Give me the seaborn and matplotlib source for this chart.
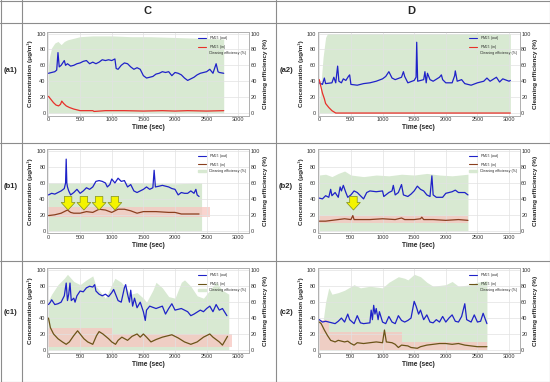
import matplotlib
matplotlib.use("Agg")
import matplotlib.pyplot as plt
import seaborn as sns
from matplotlib.lines import Line2D
from matplotlib.patches import Patch

# ---- data: (time [s], value) ----
a1_out = [(0, 50), (50, 51), (100, 52), (130, 54), (150, 76), (170, 58), (200, 60), (250, 66), (270, 60),
          (300, 62), (350, 59), (400, 60), (450, 62), (500, 63), (550, 65), (600, 66), (650, 62), (700, 64),
          (750, 62), (800, 64), (850, 67), (900, 66), (950, 67), (1000, 66), (1050, 68), (1070, 56), (1100, 55),
          (1150, 60), (1200, 63), (1250, 62), (1300, 58), (1350, 55), (1400, 57), (1450, 55), (1500, 47),
          (1550, 44), (1600, 45), (1650, 46), (1700, 49), (1750, 50), (1800, 52), (1850, 51), (1900, 52),
          (1950, 47), (2000, 51), (2050, 50), (2100, 48), (2150, 44), (2200, 41), (2250, 43), (2300, 45),
          (2350, 48), (2400, 50), (2450, 51), (2500, 52), (2550, 55), (2600, 50), (2650, 62), (2680, 52),
          (2700, 51), (2770, 50)]
a1_in = [(0, 21), (40, 17), (80, 13), (120, 10), (160, 9), (190, 11), (210, 15), (240, 12), (280, 9), (330, 7),
         (400, 5), (450, 4), (500, 3), (700, 3), (720, 2), (900, 3), (1200, 3), (1500, 2.5), (1800, 3),
         (2000, 2.5), (2200, 3), (2500, 2.5), (2770, 3)]
a1_eff = [(0, 60), (20, 72), (50, 82), (100, 88), (150, 90), (200, 86), (250, 90), (300, 92), (400, 94),
          (500, 96), (700, 97), (1000, 97), (1300, 96), (1600, 96), (2000, 95), (2400, 94), (2770, 93)]

a2_out = [(0, 38), (50, 36), (80, 44), (100, 37), (200, 38), (230, 45), (260, 38), (290, 59), (310, 40),
          (350, 38), (380, 43), (420, 41), (460, 46), (480, 48), (500, 36), (600, 35), (700, 37), (800, 38),
          (900, 40), (1000, 43), (1050, 46), (1100, 52), (1150, 44), (1200, 42), (1300, 45), (1330, 52),
          (1350, 46), (1400, 38), (1500, 41), (1530, 45), (1540, 89), (1555, 40), (1650, 42), (1670, 52),
          (1690, 38), (1710, 50), (1750, 42), (1800, 40), (1900, 45), (1930, 48), (1950, 42), (2000, 38),
          (2100, 38), (2140, 47), (2150, 53), (2180, 40), (2250, 42), (2300, 37), (2400, 35), (2500, 38),
          (2600, 40), (2650, 44), (2700, 40), (2800, 45), (2850, 39), (2900, 43), (3000, 40), (3020, 41)]
a2_in = [(0, 42), (20, 35), (50, 25), (80, 18), (100, 12), (150, 7), (200, 3), (240, 1), (260, 0), (3020, 0)]
a2_eff = [(0, 10), (30, 40), (60, 70), (100, 95), (130, 100), (3020, 100)]

b1_out = [(0, 45), (50, 47), (100, 46), (150, 48), (200, 50), (250, 53), (270, 60), (280, 90), (290, 60),
          (300, 55), (320, 50), (350, 45), (400, 48), (450, 52), (500, 47), (550, 50), (600, 54), (650, 52),
          (700, 55), (750, 62), (800, 63), (850, 62), (900, 60), (930, 55), (970, 58), (1000, 65), (1050, 60),
          (1100, 66), (1150, 62), (1200, 63), (1250, 55), (1300, 58), (1350, 50), (1400, 48), (1450, 50),
          (1500, 52), (1550, 55), (1600, 52), (1650, 54), (1670, 76), (1690, 55), (1750, 56), (1800, 57),
          (1900, 55), (1950, 53), (2000, 52), (2050, 45), (2100, 48), (2150, 47), (2200, 47), (2250, 50),
          (2300, 47), (2330, 52), (2350, 45), (2380, 43)]
b1_in = [(0, 19), (100, 20), (200, 22), (250, 24), (300, 26), (350, 23), (400, 22), (500, 22), (600, 24),
         (700, 23), (800, 27), (900, 26), (1000, 23), (1100, 27), (1200, 27), (1300, 25), (1400, 22),
         (1500, 24), (1700, 24), (1900, 23), (2000, 23), (2100, 21), (2200, 21), (2380, 21)]
b1_eff = [(0, 60), (500, 60), (1000, 61), (1500, 60), (2000, 59), (2420, 60)]
b1_band = [(0, 17, 30), (2550, 17, 30)]
b1_arrows = [310, 560, 800, 1050]

b2_out = [(0, 41), (50, 40), (100, 44), (150, 42), (180, 52), (200, 44), (250, 48), (300, 42), (330, 55),
          (350, 50), (380, 57), (420, 48), (450, 42), (500, 45), (550, 50), (600, 48), (650, 44), (700, 40),
          (750, 48), (800, 50), (900, 49), (1000, 50), (1020, 43), (1100, 48), (1150, 50), (1170, 57),
          (1200, 45), (1250, 48), (1300, 58), (1330, 45), (1400, 43), (1450, 46), (1500, 50), (1550, 56),
          (1600, 52), (1650, 50), (1700, 45), (1750, 43), (1780, 69), (1800, 45), (1850, 42), (1950, 42),
          (2000, 47), (2100, 49), (2150, 51), (2200, 48), (2300, 48), (2350, 45)]
b2_in = [(0, 12), (100, 12), (200, 13), (300, 14), (400, 15), (500, 14), (530, 19), (550, 14), (600, 14),
         (800, 14), (1000, 15), (1200, 14), (1300, 16), (1350, 14), (1500, 14), (1600, 15), (1620, 17),
         (1650, 14), (1800, 14), (2000, 13), (2200, 14), (2350, 13)]
b2_eff = [(0, 70), (100, 71), (200, 68), (300, 72), (400, 75), (500, 70), (700, 68), (900, 70), (1100, 69),
          (1300, 71), (1500, 70), (1700, 72), (1900, 70), (2100, 69), (2350, 71)]
b2_band = [(0, 10, 19), (2350, 10, 19)]
b2_arrows = [540]

c1_out = [(0, 57), (30, 60), (50, 63), (100, 57), (150, 58), (200, 60), (250, 68), (280, 84), (300, 62),
          (320, 70), (340, 84), (360, 62), (400, 65), (420, 60), (450, 68), (500, 74), (550, 73), (600, 78),
          (650, 80), (700, 79), (730, 82), (750, 74), (800, 70), (850, 68), (900, 70), (950, 67), (1000, 72),
          (1030, 76), (1100, 62), (1150, 60), (1200, 78), (1220, 82), (1250, 70), (1280, 60), (1300, 75),
          (1330, 55), (1360, 65), (1400, 53), (1450, 60), (1500, 48), (1530, 37), (1550, 50), (1600, 55),
          (1700, 52), (1800, 55), (1850, 45), (1900, 52), (1950, 58), (2000, 50), (2100, 52), (2200, 48),
          (2250, 43), (2300, 45), (2400, 50), (2450, 48), (2500, 52), (2550, 55), (2600, 48), (2650, 57),
          (2700, 50), (2750, 52), (2820, 43)]
c1_in = [(0, 40), (30, 28), (80, 20), (150, 14), (220, 10), (280, 7), (330, 10), (400, 18), (460, 24),
         (500, 20), (560, 14), (620, 10), (700, 7), (760, 18), (800, 23), (860, 20), (950, 14), (1000, 10),
         (1060, 7), (1100, 12), (1160, 16), (1250, 12), (1320, 17), (1400, 20), (1450, 16), (1500, 20),
         (1550, 16), (1620, 10), (1700, 13), (1800, 16), (1950, 19), (2050, 15), (2150, 10), (2250, 7),
         (2350, 10), (2450, 16), (2550, 20), (2600, 16), (2700, 10), (2750, 6), (2830, 17)]
c1_eff = [(0, 62), (50, 70), (150, 82), (250, 90), (300, 95), (400, 86), (500, 82), (600, 88), (700, 93),
          (750, 80), (900, 65), (1000, 82), (1050, 90), (1150, 85), (1300, 70), (1400, 72), (1500, 65),
          (1550, 60), (1650, 75), (1700, 85), (1800, 78), (1900, 67), (2000, 65), (2100, 85), (2150, 88),
          (2250, 80), (2350, 68), (2450, 65), (2550, 75), (2650, 85), (2750, 75), (2850, 70)]
c1_band = [(0, 3, 28), (1000, 3, 28), (1000, 3, 20), (2900, 3, 20)]
c1_arrows = []

c2_out = [(0, 38), (50, 35), (100, 36), (200, 34), (250, 33), (300, 36), (350, 40), (400, 35), (450, 45),
          (480, 38), (550, 33), (600, 43), (650, 34), (700, 33), (800, 34), (820, 50), (840, 38), (860, 56),
          (880, 45), (900, 52), (930, 38), (950, 48), (1000, 35), (1050, 33), (1100, 42), (1150, 35),
          (1200, 33), (1250, 43), (1300, 37), (1350, 35), (1400, 37), (1450, 40), (1500, 61), (1530, 55),
          (1570, 45), (1600, 50), (1650, 38), (1700, 44), (1750, 35), (1800, 34), (1850, 38), (1900, 35),
          (1950, 42), (2000, 35), (2050, 40), (2100, 44), (2150, 36), (2200, 35), (2250, 42), (2300, 58),
          (2330, 38), (2400, 35), (2450, 44), (2500, 35), (2550, 36), (2590, 46), (2650, 33)]
c2_in = [(0, 35), (30, 33), (80, 25), (130, 18), (180, 12), (250, 10), (300, 12), (400, 10), (450, 11),
         (500, 8), (550, 6), (600, 9), (700, 8), (800, 9), (900, 10), (1000, 9), (1030, 25), (1060, 10),
         (1150, 9), (1200, 7), (1250, 3), (1300, 6), (1400, 5), (1450, 3), (1550, 2), (1600, 4), (1700, 6),
         (1800, 7), (1900, 8), (2000, 8), (2100, 7), (2200, 8), (2300, 6), (2400, 5), (2500, 4), (2650, 4)]
c2_eff = [(0, 20), (50, 30), (100, 60), (150, 78), (200, 70), (300, 72), (400, 75), (550, 82), (650, 78),
          (800, 80), (1000, 78), (1100, 85), (1250, 92), (1350, 90), (1400, 88), (1500, 95), (1600, 92),
          (1700, 85), (1800, 80), (2000, 82), (2100, 86), (2200, 80), (2400, 82), (2500, 85), (2650, 87)]
c2_band = [(0, 0, 38), (150, 0, 38), (150, 0, 22), (1300, 0, 22), (1300, 0, 10), (2650, 0, 10)]
c2_arrows = []

row_labels = ["(a1)", "(a2)", "(b1)", "(b2)", "(c1)", "(c2)"]
col_titles = ["C", "D"]

# ---- style ----
sns.set_theme(style="whitegrid")
plt.rcParams["font.family"] = ["Liberation Sans", "DejaVu Sans"]
plt.rcParams["mathtext.fontset"] = "custom"
plt.rcParams["mathtext.rm"] = "Liberation Sans"

BLUE = "#1f22c8"
RED = "#e8302a"
BROWN_B = "#8a3f1e"
BROWN_C = "#6b5418"
GREEN = "#d8e9d2"
PINK = "#f8c6c0"
LINE = "#8c8c8c"

W, H = 550, 382
fig = plt.figure(figsize=(5.5, 3.82), dpi=100)

col_left = [46.9 / W, 317.7 / W]
row_bottom = [0.697, 0.389, 0.077]
ax_w, ax_h = 0.3675, 0.2205

panels = [
    (a1_out, a1_in, a1_eff, [], [], RED),
    (a2_out, a2_in, a2_eff, [], [], RED),
    (b1_out, b1_in, b1_eff, b1_band, b1_arrows, BROWN_B),
    (b2_out, b2_in, b2_eff, b2_band, b2_arrows, BROWN_B),
    (c1_out, c1_in, c1_eff, c1_band, c1_arrows, BROWN_C),
    (c2_out, c2_in, c2_eff, c2_band, c2_arrows, BROWN_C),
]

for i, (out, pin, eff, band, arrows, in_color) in enumerate(panels):
    r, c = divmod(i, 2)
    ax = fig.add_axes([col_left[c], row_bottom[r], ax_w, ax_h])
    ax2 = ax.twinx()

    # cleaning efficiency (right axis) + shaded band
    ax2.fill_between([p[0] for p in eff], [p[1] for p in eff], color=GREEN, lw=0)
    if band:
        ax2.fill_between([p[0] for p in band], [p[1] for p in band], [p[2] for p in band],
                         color=PINK, alpha=0.75, lw=0)
    ax2.grid(False)

    ax.set_zorder(ax2.get_zorder() + 1)
    ax.patch.set_visible(False)

    sns.lineplot(x=[p[0] for p in out], y=[p[1] for p in out], ax=ax, color=BLUE, lw=0.9)
    sns.lineplot(x=[p[0] for p in pin], y=[p[1] for p in pin], ax=ax, color=in_color, lw=0.9)

    for t in arrows:
        ax.annotate("", xy=(t, 26), xytext=(t, 43),
                    arrowprops=dict(arrowstyle="simple,head_width=1.1,head_length=0.6,tail_width=0.6",
                                    fc="#f4f400", ec="#7f8f1a", lw=0.5, mutation_scale=9,
                                    shrinkA=0, shrinkB=0))

    for a in (ax, ax2):
        a.set_xlim(-25, 3170)
        a.set_ylim(-3.4, 102.5)
        a.set_yticks(range(0, 101, 20))
        a.tick_params(labelsize=4, pad=1, length=0, colors="#333333")
        for s in a.spines.values():
            s.set_color("#b0b0b0")
            s.set_linewidth(0.6)
    ax.set_xticks(range(0, 3001, 500))
    ax.grid(color="#e2e2e2", lw=0.5)

    ax.set_xlabel("Time (sec)", fontsize=4.8, fontweight="bold", labelpad=1.5)
    ax.set_ylabel("Concentration (μg/m³)", fontsize=4.6, fontweight="bold", labelpad=2)
    ax2.set_ylabel("Cleaning efficiency (%)", fontsize=4.6, fontweight="bold", labelpad=2)

    handles = [Line2D([], [], color=BLUE, lw=0.8), Line2D([], [], color=in_color, lw=0.8),
               Patch(color=GREEN)]
    labels = ["PM$_{2.5}$ (out)", "PM$_{2.5}$ (in)", "Cleaning efficiency (%)"]
    ax.legend(handles, labels, loc="upper right", fontsize=2.6, frameon=False,
              handlelength=2.2, handleheight=0.6, labelspacing=0.15, borderaxespad=0.4)

# ---- table frame ----
def hline(y, x0=0, x1=W):
    fig.add_artist(Line2D([x0 / W, x1 / W], [1 - y / H, 1 - y / H], transform=fig.transFigure,
                          color=LINE, lw=0.8))

def vline(x, y0=0, y1=H):
    fig.add_artist(Line2D([x / W, x / W], [1 - y0 / H, 1 - y1 / H], transform=fig.transFigure,
                          color=LINE, lw=0.8))

for y in [0.5, 23, 143, 261, 381.5]:
    hline(y)
for x in [0.5, 22, 275.5, 549.5]:
    vline(x)

fig.text(148 / W, 1 - 11 / H, col_titles[0], ha="center", va="center", fontsize=8, fontweight="bold")
fig.text(411 / W, 1 - 11 / H, col_titles[1], ha="center", va="center", fontsize=8, fontweight="bold")

row_y = [70, 187, 312]
for i, lab in enumerate(row_labels):
    r, c = divmod(i, 2)
    x = 11 if c == 0 else 275 + 11
    fig.text(x / W, 1 - row_y[r] / H, lab, ha="center", va="center", fontsize=5.5, fontweight="bold")

fig.savefig("out.png", dpi=100)
